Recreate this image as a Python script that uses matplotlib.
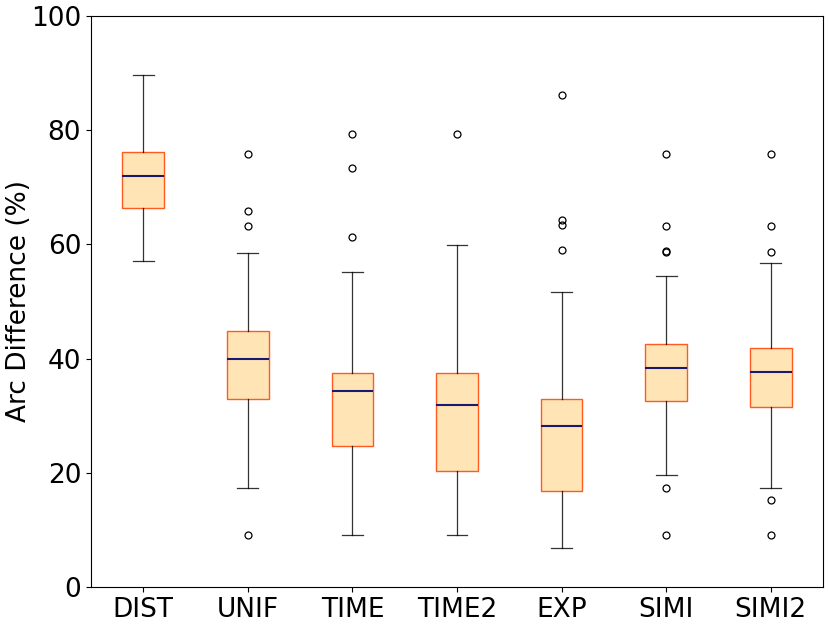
import matplotlib
matplotlib.use("Agg")
import matplotlib.pyplot as plt

# Box statistics (Arc Difference, %)
labels = ["DIST", "UNIF", "TIME", "TIME2", "EXP", "SIMI", "SIMI2"]
whislo = [57.1, 17.4, 9.1, 9.1, 6.9, 19.6, 17.4]
q1 = [66.3, 32.9, 24.7, 20.3, 16.9, 32.6, 31.6]
med = [71.9, 39.9, 34.3, 31.9, 28.2, 38.4, 37.7]
q3 = [76.2, 44.8, 37.5, 37.5, 33.0, 42.6, 41.9]
whishi = [89.7, 58.5, 55.1, 59.9, 51.7, 54.5, 56.8]
fliers = [
    [],
    [75.8, 65.8, 63.3, 9.1],
    [79.3, 73.3, 61.3],
    [79.3],
    [86.2, 64.3, 63.4, 59.1],
    [75.8, 63.3, 58.6, 58.9, 17.4, 9.1],
    [75.8, 63.3, 58.6, 15.2, 9.1],
]

stats = []
for i, lab in enumerate(labels):
    stats.append({
        "label": lab,
        "whislo": whislo[i],
        "q1": q1[i],
        "med": med[i],
        "q3": q3[i],
        "whishi": whishi[i],
        "fliers": fliers[i],
    })

fig, ax = plt.subplots(figsize=(8.3, 6.25), dpi=100)

ax.bxp(
    stats,
    widths=0.4,
    patch_artist=True,
    showfliers=True,
    boxprops=dict(facecolor="#ffe4b5", edgecolor="#ff5a1f", linewidth=1.0),
    medianprops=dict(color="#191970", linewidth=1.5),
    whiskerprops=dict(color="black", linewidth=0.9, alpha=0.8),
    capprops=dict(color="black", linewidth=0.9, alpha=0.8),
    flierprops=dict(marker="o", markerfacecolor="none", markeredgecolor="black",
                    markersize=5, markeredgewidth=0.9),
)

ax.set_xlim(0.5, len(labels) + 0.5)
ax.set_ylim(0, 100)
ax.set_yticks([0, 20, 40, 60, 80, 100])
ax.set_ylabel("Arc Difference (%)", fontsize=19)
ax.yaxis.set_label_coords(-0.08, 0.5)
ax.tick_params(axis="both", labelsize=19)

plt.subplots_adjust(left=0.1096, right=0.9916, top=0.9744, bottom=0.0608)
plt.savefig("out.png", dpi=100)
